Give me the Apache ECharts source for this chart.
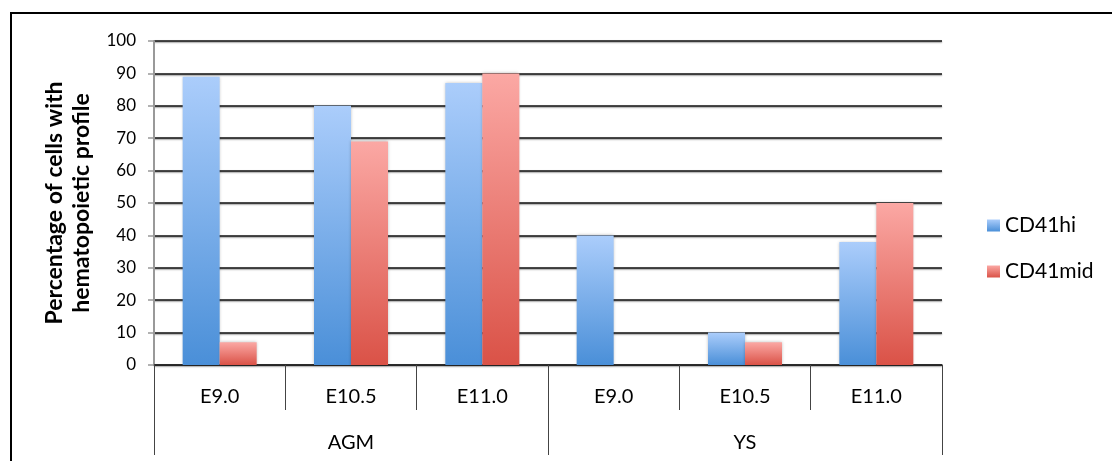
<!DOCTYPE html>
<html>
<head>
<meta charset="utf-8">
<script src="https://cdn.jsdelivr.net/npm/echarts@6/dist/echarts.min.js"></script>
<style>
  html, body { margin: 0; padding: 0; background: #fff; }
  #frame { position: absolute; left: 10px; top: 12px; width: 1102px; height: 449px;
           border-left: 2px solid #000; border-top: 2px solid #000; box-sizing: border-box; }
  #chart { position: absolute; left: 0; top: 0; width: 1112px; height: 461px; }
</style>
</head>
<body>
<div id="frame"></div>
<div id="chart"></div>
<script>
// Developmental stages within each tissue
const stages = ['E9.0', 'E10.5', 'E11.0', 'E9.0', 'E10.5', 'E11.0'];
// Tissues grouping the stages
const tissues = ['AGM', 'YS'];
// Percentage of cells with hematopoietic profile
const cd41hi  = [89, 80, 87, 40, 10, 38];
const cd41mid = [7, 69, 90, 0, 7, 50];
const yTicks = [0, 10, 20, 30, 40, 50, 60, 70, 80, 90, 100];

const FONT = 'Lato, "Open Sans", sans-serif';

function grad(top, bottom) {
  return new echarts.graphic.LinearGradient(0, 0, 0, 1, [
    { offset: 0, color: top },
    { offset: 1, color: bottom }
  ]);
}

const chart = echarts.init(document.getElementById('chart'));
chart.setOption({
  animation: false,
  grid: { left: 154, top: 41, right: 170, bottom: 96 },
  legend: {
    orient: 'vertical',
    left: 982,
    top: 210,
    itemWidth: 13,
    itemHeight: 12,
    itemGap: 25,
    icon: 'rect',
    textStyle: { fontFamily: FONT, fontSize: 21, color: '#000' },
    data: ['CD41hi', 'CD41mid']
  },
  xAxis: [
    {
      type: 'category',
      data: stages,
      position: 'bottom',
      axisLine: { show: true, lineStyle: { color: '#222', width: 1.5 } },
      axisTick: { show: true, interval: 0, length: 45, lineStyle: { color: '#444', width: 1 } },
      axisLabel: { interval: 0, margin: 22, fontFamily: FONT, fontSize: 20, color: '#000' }
    },
    {
      type: 'category',
      data: tissues,
      position: 'bottom',
      axisLine: { show: false },
      axisTick: { show: true, interval: 0, length: 90, lineStyle: { color: '#444', width: 1 } },
      axisLabel: { interval: 0, margin: 68, fontFamily: FONT, fontSize: 20, color: '#000' }
    }
  ],
  yAxis: {
    type: 'value',
    min: yTicks[0],
    max: yTicks[yTicks.length - 1],
    interval: yTicks[1] - yTicks[0],
    name: 'Percentage of cells with\nhematopoietic profile',
    nameLocation: 'middle',
    nameGap: 46,
    nameTextStyle: { fontFamily: FONT, fontSize: 23, fontWeight: 'bold', color: '#000', lineHeight: 27 },
    axisLine: { show: true, lineStyle: { color: '#999', width: 2 } },
    axisTick: { show: true, length: 6, lineStyle: { color: '#999', width: 1.5 } },
    axisLabel: { margin: 18, fontFamily: FONT, fontSize: 17, color: '#000' },
    splitLine: {
      show: true,
      lineStyle: { color: '#111', width: 1.5, shadowColor: 'rgba(0,0,0,0.45)', shadowBlur: 1.5, shadowOffsetY: 1 }
    }
  },
  series: [
    {
      name: 'CD41hi',
      type: 'bar',
      xAxisIndex: 0,
      data: cd41hi,
      barWidth: 37,
      barGap: '0%',
      itemStyle: {
        color: grad('#abcdfb', '#4a8fd8'),
        shadowColor: 'rgba(0,0,0,0.25)',
        shadowBlur: 3
      }
    },
    {
      name: 'CD41mid',
      type: 'bar',
      xAxisIndex: 0,
      data: cd41mid,
      barWidth: 37,
      barGap: '0%',
      itemStyle: {
        color: grad('#fba8a4', '#da5247'),
        shadowColor: 'rgba(0,0,0,0.25)',
        shadowBlur: 3
      }
    }
  ]
});
</script>
</body>
</html>
